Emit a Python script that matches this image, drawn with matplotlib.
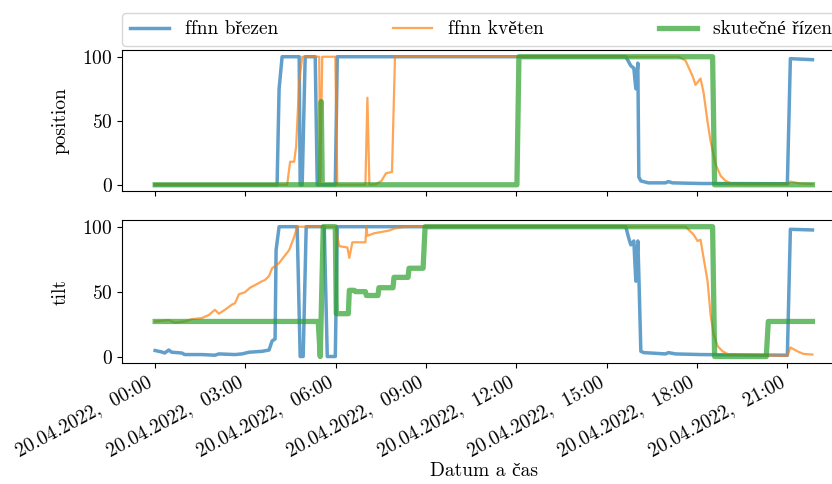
import matplotlib
matplotlib.use('Agg')
import matplotlib.pyplot as plt
import matplotlib.dates as mdates
import pandas as pd

plt.rcParams['font.family'] = ['cmr10', 'Liberation Serif']
plt.rcParams['mathtext.fontset'] = 'cm'
plt.rcParams['axes.formatter.use_mathtext'] = True
plt.rcParams['font.size'] = 14

day = pd.Timestamp('2022-04-20')

# times are minutes after midnight, values in percent
b_pos_t = [0, 243, 247, 253, 287, 289, 293, 299, 319, 323, 359, 363, 938, 948, 954, 958, 962, 964,
           968, 983, 1017, 1023, 1031, 1087, 1260, 1266, 1310]
b_pos_v = [0, 0, 75, 100, 100, 0, 0, 100, 100, 0, 0, 100, 100, 93, 91, 75, 95, 6,
           3, 1.5, 1.5, 2.5, 1.5, 1, 0.8, 98.5, 97.7]

o_pos_t = [0, 263, 269, 277, 281, 287, 293, 327, 329, 333, 359, 363, 419, 423, 427, 440, 451, 460,
           472, 478, 1043, 1057, 1071, 1077, 1087, 1093, 1101, 1107, 1117, 1127, 1137, 1151,
           1260, 1266, 1286, 1310]
o_pos_v = [0, 0, 18, 18, 30, 80, 100, 100, 0, 100, 100, 0, 0, 68, 0, 0.5, 3, 9,
           10, 100, 100, 97, 85, 78, 83, 72, 49, 34, 16, 7, 3, 0.5,
           0.5, 2.5, 1, 0.5]

g_pos_t = [0, 329, 331, 333, 721, 725, 1111, 1115, 1310]
g_pos_v = [0, 0, 65, 0, 0, 100, 100, 0, 0]

b_tilt_t = [0, 13, 19, 27, 33, 53, 59, 93, 119, 127, 159, 173, 187, 213, 227, 233, 239, 241, 247,
            283, 289, 295, 301, 337, 343, 359, 363, 938, 944, 948, 954, 958, 962, 964, 968, 974,
            1017, 1023, 1037, 1087, 1260, 1266, 1310]
b_tilt_v = [4.6, 3.5, 2.7, 5, 3.3, 2.7, 1.5, 1.5, 1, 2, 1.5, 2, 3.3, 4, 5, 12, 13.5, 82, 100,
            100, 0, 0, 100, 100, 0, 0, 100, 100, 91, 86, 89, 58, 89, 63, 4, 3,
            2, 3, 2, 1.5, 1, 98, 97.5]

o_tilt_t = [0, 27, 39, 59, 73, 93, 107, 119, 127, 139, 153, 159, 167, 179, 189, 199, 213, 219, 227,
            233, 247, 259, 267, 277, 283, 359, 367, 383, 387, 393, 419, 421, 423, 437, 466, 480,
            500, 1057, 1073, 1081, 1087, 1093, 1101, 1107, 1113, 1121, 1131, 1143, 1260, 1266,
            1280, 1292, 1310]
o_tilt_v = [27, 28, 26, 27, 28.8, 29.6, 32, 36, 33, 36, 40, 41, 48, 49.5, 53, 55, 58, 59, 62,
            68, 72, 78, 82, 92, 100, 100, 85, 84, 76, 88, 88, 100, 93, 95, 97, 99,
            100, 100, 94, 89, 90, 76, 58, 32, 17, 8, 4, 1.5, 0.5, 7,
            4, 2, 1.5]

g_tilt_t = [0, 325, 329, 335, 359, 361, 385, 387, 397, 399, 419, 421, 444, 446, 474, 476, 504,
            506, 534, 538, 1111, 1115, 1218, 1222, 1310]
g_tilt_v = [27, 27, 0, 100, 100, 33, 33, 51, 51, 50, 50, 47, 47, 53, 53, 61, 61,
            68, 68, 100, 100, 0, 0, 27, 27]

labels = ['ffnn březen', 'ffnn květen', 'skutečné řízení']


def times(mins):
    return day + pd.to_timedelta(mins, unit='min')


fig = plt.figure(figsize=(8.32, 4.84), dpi=100)
ax1 = fig.add_axes([0.147, 0.605, 0.869, 0.291])
ax2 = fig.add_axes([0.147, 0.25, 0.869, 0.295], sharex=ax1)

ax1.plot(times(b_pos_t), b_pos_v, color='tab:blue', lw=2.5, alpha=0.7, label=labels[0])
ax1.plot(times(o_pos_t), o_pos_v, color='tab:orange', lw=1.6, alpha=0.7, label=labels[1])
ax1.plot(times(g_pos_t), g_pos_v, color='tab:green', lw=3.8, alpha=0.7, label=labels[2])

ax2.plot(times(b_tilt_t), b_tilt_v, color='tab:blue', lw=2.5, alpha=0.7)
ax2.plot(times(o_tilt_t), o_tilt_v, color='tab:orange', lw=1.6, alpha=0.7)
ax2.plot(times(g_tilt_t), g_tilt_v, color='tab:green', lw=3.8, alpha=0.7)

ax1.set_ylabel('position', labelpad=9)
ax2.set_ylabel('tilt', labelpad=9)
ax2.set_xlabel('Datum a čas', labelpad=2)
ax1.set_yticks([0, 50, 100])
ax2.set_yticks([0, 50, 100])

ax2.xaxis.set_major_locator(mdates.HourLocator(byhour=range(0, 24, 3)))
ax2.xaxis.set_major_formatter(mdates.DateFormatter('%d.%m.%Y,  %H:%M'))
plt.setp(ax1.get_xticklabels(), visible=False)
plt.setp(ax2.get_xticklabels(), rotation=28, ha='right')

ax1.legend(bbox_to_anchor=(0, 1.03, 1, 0.2), loc='lower left', mode='expand', ncol=3,
           borderaxespad=0)

fig.savefig('out.png', dpi=100)
